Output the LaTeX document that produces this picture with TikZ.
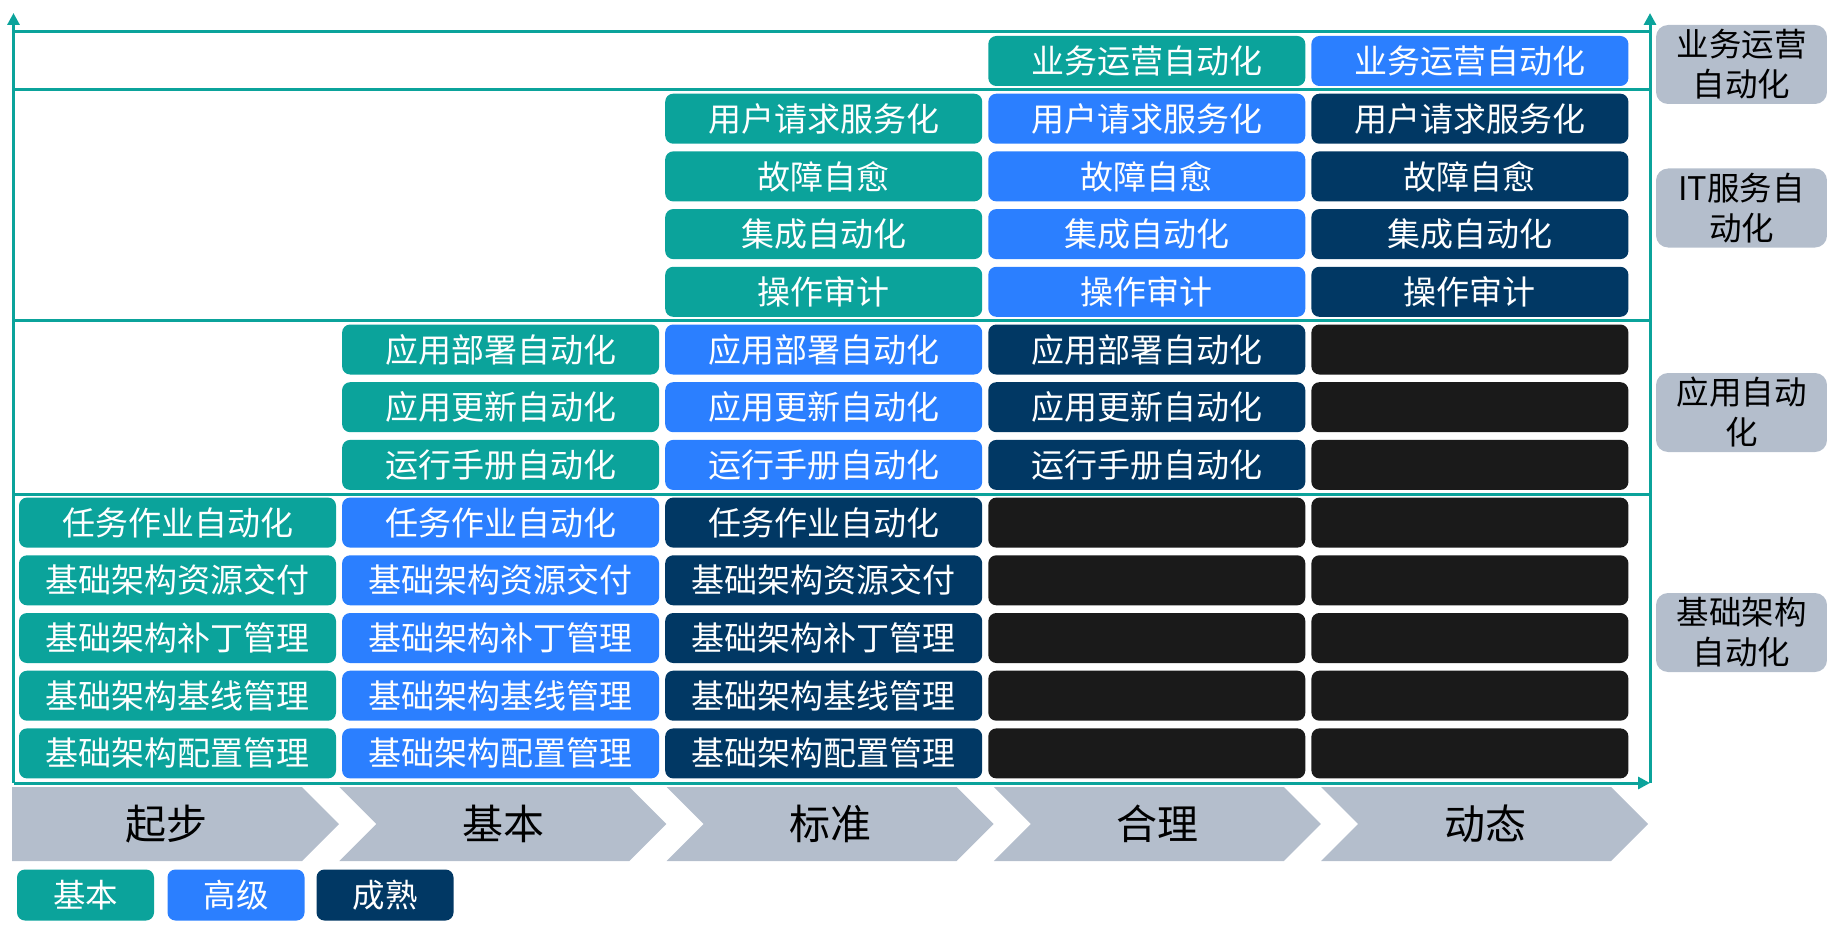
\documentclass[tikz,border=0pt]{standalone}
\usepackage{fontspec}
\setmainfont{Noto Sans CJK SC}
\usetikzlibrary{arrows.meta}

\definecolor{jiben}{HTML}{0BA39B}
\definecolor{gaoji}{HTML}{2B7FFF}
\definecolor{chengshu}{HTML}{013864}
\definecolor{kong}{HTML}{1A1A1A}
\definecolor{huise}{HTML}{B4BECC}

\tikzset{
  cell/.style={rounded corners=8pt, minimum width=317pt, minimum height=50pt,
    inner sep=0pt, text=white, font=\fontsize{33}{36}\selectfont},
  jb/.style={cell, fill=jiben},
  gj/.style={cell, fill=gaoji},
  cs/.style={cell, fill=chengshu},
  ky/.style={cell, fill=kong},
  axis/.style={draw=jiben, line width=3pt},
  tag/.style={rounded corners=12pt, fill=huise, minimum width=171pt,
    minimum height=79pt, inner sep=0pt, align=center,
    font=\fontsize{32.5}{40}\selectfont},
  key/.style={rounded corners=8pt, minimum width=137pt, minimum height=51pt,
    inner sep=0pt, text=white, font=\fontsize{32.5}{36}\selectfont},
  stagetext/.style={font=\fontsize{41}{44}\selectfont}
}

\begin{document}
\begin{tikzpicture}[x=1pt, y=-1pt]
  \useasboundingbox (0,0) rectangle (1827,936);

  % axes
  \coordinate (o) at (13.5,783); \coordinate (lt) at (13.5,13);
  \coordinate (ro) at (1650,783); \coordinate (rt) at (1650,13);
  \draw[axis, -{Triangle[length=12pt,width=12pt]}] (o) -- (lt);
  \draw[axis, -{Triangle[length=12pt,width=12pt]}] (ro) -- (rt);
  \draw[axis, -{Triangle[length=12pt,width=12pt]}] (o) -- (ro);
  \foreach \y in {32,90,320,494}
    \draw[axis] (13.5,\y) -- (1650,\y);

  % business operations
  \node[jb] (r0c4) at (1146.8,61) {业务运营自动化};
  \node[gj] (r0c5) at (1469.9,61) {业务运营自动化};

  % IT services
  \node[jb] (r1c3) at (823.7,118.7) {用户请求服务化};
  \node[gj] (r1c4) at (1146.8,118.7) {用户请求服务化};
  \node[cs] (r1c5) at (1469.9,118.7) {用户请求服务化};
  \node[jb] (r2c3) at (823.7,176.4) {故障自愈};
  \node[gj] (r2c4) at (1146.8,176.4) {故障自愈};
  \node[cs] (r2c5) at (1469.9,176.4) {故障自愈};
  \node[jb] (r3c3) at (823.7,234.1) {集成自动化};
  \node[gj] (r3c4) at (1146.8,234.1) {集成自动化};
  \node[cs] (r3c5) at (1469.9,234.1) {集成自动化};
  \node[jb] (r4c3) at (823.7,291.8) {操作审计};
  \node[gj] (r4c4) at (1146.8,291.8) {操作审计};
  \node[cs] (r4c5) at (1469.9,291.8) {操作审计};

  % applications
  \node[jb] (r5c2) at (500.6,349.5) {应用部署自动化};
  \node[gj] (r5c3) at (823.7,349.5) {应用部署自动化};
  \node[cs] (r5c4) at (1146.8,349.5) {应用部署自动化};
  \node[ky] (r5c5) at (1469.9,349.5) {};
  \node[jb] (r6c2) at (500.6,407.2) {应用更新自动化};
  \node[gj] (r6c3) at (823.7,407.2) {应用更新自动化};
  \node[cs] (r6c4) at (1146.8,407.2) {应用更新自动化};
  \node[ky] (r6c5) at (1469.9,407.2) {};
  \node[jb] (r7c2) at (500.6,464.9) {运行手册自动化};
  \node[gj] (r7c3) at (823.7,464.9) {运行手册自动化};
  \node[cs] (r7c4) at (1146.8,464.9) {运行手册自动化};
  \node[ky] (r7c5) at (1469.9,464.9) {};

  % infrastructure
  \node[jb] (r8c1) at (177.5,522.6) {任务作业自动化};
  \node[gj] (r8c2) at (500.6,522.6) {任务作业自动化};
  \node[cs] (r8c3) at (823.7,522.6) {任务作业自动化};
  \node[ky] (r8c4) at (1146.8,522.6) {}; \node[ky] (r8c5) at (1469.9,522.6) {};
  \node[jb] (r9c1) at (177.5,580.3) {基础架构资源交付};
  \node[gj] (r9c2) at (500.6,580.3) {基础架构资源交付};
  \node[cs] (r9c3) at (823.7,580.3) {基础架构资源交付};
  \node[ky] (r9c4) at (1146.8,580.3) {}; \node[ky] (r9c5) at (1469.9,580.3) {};
  \node[jb] (r10c1) at (177.5,638) {基础架构补丁管理};
  \node[gj] (r10c2) at (500.6,638) {基础架构补丁管理};
  \node[cs] (r10c3) at (823.7,638) {基础架构补丁管理};
  \node[ky] (r10c4) at (1146.8,638) {}; \node[ky] (r10c5) at (1469.9,638) {};
  \node[jb] (r11c1) at (177.5,695.7) {基础架构基线管理};
  \node[gj] (r11c2) at (500.6,695.7) {基础架构基线管理};
  \node[cs] (r11c3) at (823.7,695.7) {基础架构基线管理};
  \node[ky] (r11c4) at (1146.8,695.7) {}; \node[ky] (r11c5) at (1469.9,695.7) {};
  \node[jb] (r12c1) at (177.5,753.4) {基础架构配置管理};
  \node[gj] (r12c2) at (500.6,753.4) {基础架构配置管理};
  \node[cs] (r12c3) at (823.7,753.4) {基础架构配置管理};
  \node[ky] (r12c4) at (1146.8,753.4) {}; \node[ky] (r12c5) at (1469.9,753.4) {};

  % right-hand categories
  \node[tag] (t1) at (1741.5,64.5) {业务运营\\自动化};
  \node[tag] (t2) at (1741.5,208) {IT服务自\\动化};
  \node[tag] (t3) at (1741.5,412.5) {应用自动\\化};
  \node[tag] (t4) at (1741.5,632.5) {基础架构\\自动化};

  % stages
  \fill[huise] (12,787) -- ++(290,0) -- ++(37,37) -- ++(-37,37) -- ++(-290,0) -- cycle;
  \node[stagetext] (s0) at (166,824) {起步};
  \foreach \i/\t in {1/基本,2/标准,3/合理,4/动态} {
    \fill[huise] ({12+327.3*\i},787) -- ++(290,0) -- ++(37,37) -- ++(-37,37)
      -- ++(-290,0) -- ++(37,-37) -- cycle;
    \node[stagetext] (s\i) at ({12+327.3*\i+164},824) {\t};
  }

  % legend
  \node[key, fill=jiben] (k1) at (85.5,895) {基本};
  \node[key, fill=gaoji] (k2) at (236,895) {高级};
  \node[key, fill=chengshu] (k3) at (385,895) {成熟};
\end{tikzpicture}
\end{document}
